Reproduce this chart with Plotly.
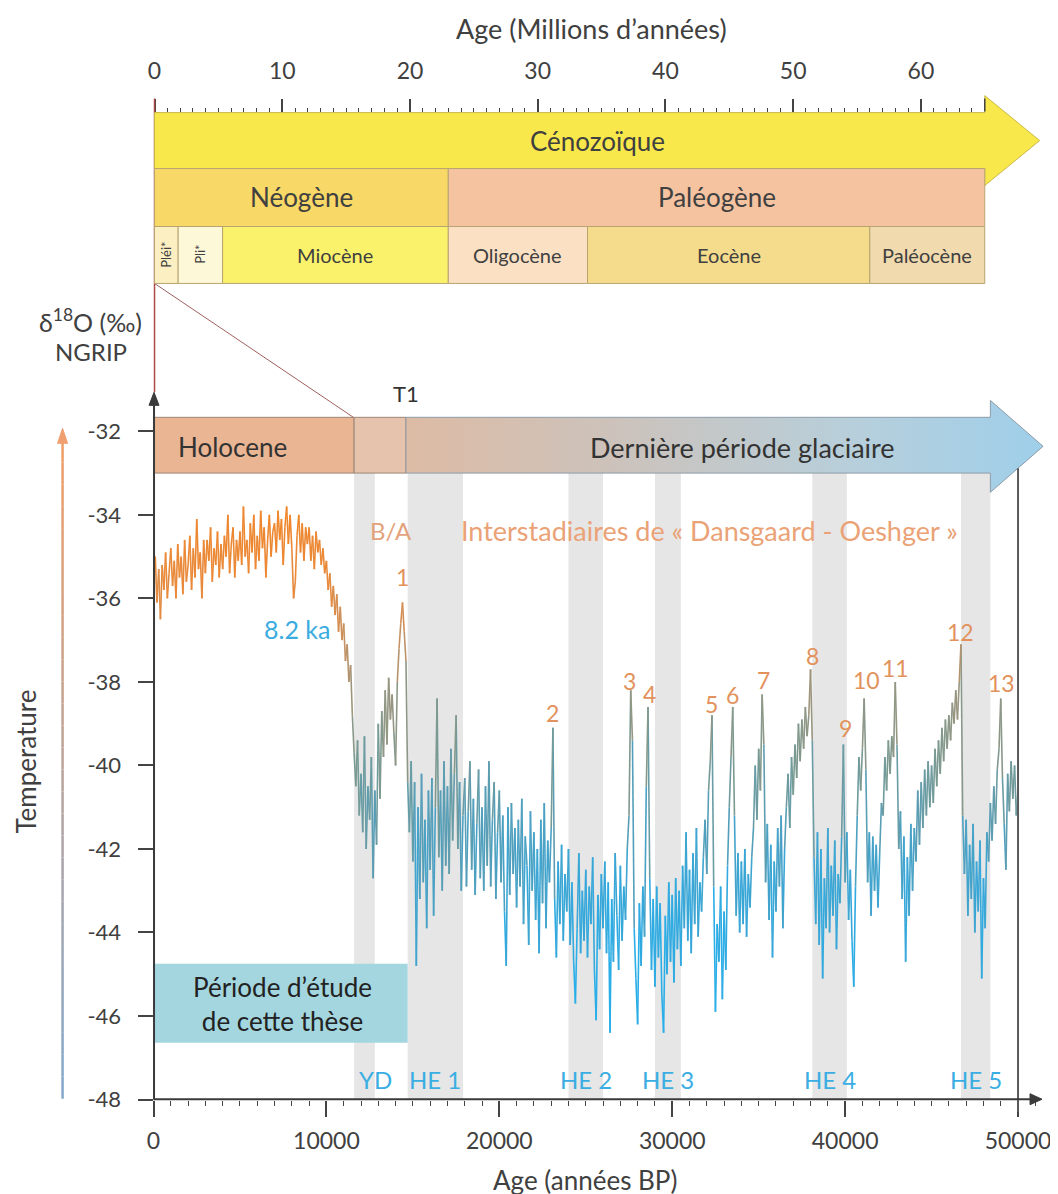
import plotly.graph_objects as go

W, H = 1058, 1194
FONT = "Lato"
TXT = "#404040"

# ---------------- data ----------------
# NGRIP d18O (permil), one value every 100 years BP
d18o_0_10ka = [
    -35.6, -35.0, -36.1, -35.3, -36.5, -35.2, -35.8, -34.9, -36.0, -35.4,
    -34.8, -35.7, -35.1, -36.0, -34.7, -35.5, -35.0, -35.9, -34.6, -35.6,
    -35.2, -34.5, -35.8, -34.8, -35.5, -34.1, -35.3, -34.9, -36.0, -34.6,
    -35.4, -34.6, -35.1, -34.3, -35.6, -34.8, -35.2, -34.4, -35.5, -34.7,
    -35.3, -34.5, -35.0, -34.0, -35.4, -34.7, -34.3, -35.5, -34.6, -35.1,
    -34.4, -35.2, -33.8, -35.0, -34.6, -35.4, -34.2, -34.9, -34.0, -35.3,
    -34.5, -35.1, -33.9, -34.8, -34.3, -35.5, -34.6, -34.0, -35.0, -34.4,
    -34.2, -34.9, -33.9, -34.6, -34.1, -35.2, -34.3, -33.8, -34.7, -34.0,
    -34.8, -36.0, -35.6, -34.5, -34.0, -34.9, -34.2, -35.1, -34.3, -34.7,
    -34.3, -35.1, -34.5, -35.3, -34.4, -34.9, -34.6, -35.2, -34.8, -35.4,
]
d18o_10_20ka = [
    -35.1, -35.8, -35.4, -36.2, -35.7, -36.4, -35.9, -36.8, -36.2, -37.0,
    -36.6, -37.5, -37.1, -38.0, -37.6, -38.8, -39.7, -40.5, -39.4, -41.2,
    -40.2, -41.6, -39.3, -42.0, -40.5, -41.3, -39.8, -42.7, -40.6, -41.9,
    -39.0, -40.8, -38.7, -39.8, -38.2, -39.5, -37.9, -38.9, -38.3, -39.2,
    -40.0, -38.0, -37.2, -36.6, -36.1, -36.8, -37.5, -40.4, -41.6, -39.9,
    -42.3, -40.4, -44.8, -41.0, -43.2, -40.2, -42.8, -41.3, -43.9, -40.6,
    -42.5, -40.3, -43.6, -41.0, -38.4, -42.2, -40.6, -43.0, -39.9, -42.4,
    -40.5, -42.6, -39.6, -41.8, -40.2, -38.8, -42.0, -40.4, -43.0, -41.2,
    -40.3, -42.9, -41.1, -39.9, -42.5, -40.8, -43.1, -41.4, -40.1, -42.7,
    -41.0, -43.0, -40.5, -42.4, -39.9, -42.9, -41.3, -40.4, -43.2, -41.6,
]
d18o_20_30ka = [
    -40.6, -42.8, -41.2, -43.5, -44.8, -41.0, -43.1, -40.9, -42.6, -41.5,
    -43.4, -41.3, -42.9, -40.8, -43.8, -41.7, -42.4, -44.3, -41.1, -43.0,
    -41.6, -43.7, -42.0, -44.5, -41.3, -43.3, -40.9, -43.9, -41.8, -42.8,
    -41.5, -39.1, -43.2, -44.6, -42.3, -43.8, -41.9, -44.2, -42.6, -43.5,
    -42.0, -44.3, -42.8, -44.7, -45.7, -43.9, -42.1, -44.5, -43.0, -44.2,
    -42.5, -44.6, -42.9, -43.8, -42.2, -44.9, -46.1, -43.1, -44.4, -42.6,
    -43.9, -42.3, -44.5, -42.8, -46.4, -43.2, -44.7, -42.1, -43.6, -44.9,
    -42.4, -44.2, -42.9, -43.7, -42.0, -41.2, -38.2, -39.4, -43.9, -45.1,
    -46.2, -43.3, -44.8, -42.9, -44.1, -40.5, -38.6, -42.7, -44.9, -43.2,
    -45.3, -42.9, -44.6, -43.3, -45.5, -46.4, -43.6, -45.0, -42.8, -44.7,
]
d18o_30_40ka = [
    -43.1, -45.2, -42.7, -44.4, -43.0, -44.8, -42.4, -43.9, -41.6, -44.2,
    -42.5, -44.5, -42.1, -43.8, -41.5, -44.1, -42.8, -43.5, -42.2, -41.3,
    -42.6, -40.6, -39.9, -38.8, -42.9, -45.9, -43.8, -44.7, -42.9, -45.6,
    -43.5, -44.9, -42.4, -41.0, -39.8, -38.6, -41.2, -43.6, -42.1, -44.0,
    -42.3, -43.8, -42.0, -44.1, -42.6, -43.4, -42.2, -41.5, -40.0, -41.3,
    -39.6, -40.6, -38.3, -39.5, -42.8, -41.4, -43.7, -41.9, -44.6, -42.3,
    -43.5, -41.5, -42.9, -41.2, -43.9, -42.0, -41.0, -40.2, -41.5, -39.8,
    -40.7, -39.5, -40.3, -39.0, -39.9, -38.9, -39.6, -38.6, -39.3, -38.8,
    -37.7, -39.4, -42.2, -43.8, -41.6, -44.3, -42.0, -45.1, -42.7, -43.9,
    -41.5, -44.0, -42.4, -43.6, -41.8, -44.4, -42.6, -43.3, -41.7, -39.5,
]
d18o_40_50ka = [
    -42.8, -41.6, -43.7, -42.5, -44.2, -45.3, -42.9, -41.2, -39.8, -40.6,
    -39.6, -38.4, -40.1, -42.8, -41.6, -43.6, -41.7, -43.0, -41.9, -43.4,
    -42.1, -40.9, -41.2, -39.8, -40.6, -39.4, -40.2, -39.3, -39.8, -38.0,
    -39.5, -42.0, -41.1, -43.2, -41.7, -44.7, -42.2, -43.6, -41.4, -43.0,
    -41.5, -42.3, -40.6, -41.9, -40.4, -41.5, -40.1, -41.2, -39.9, -41.0,
    -40.0, -40.9, -39.6, -40.5, -39.4, -40.2, -39.1, -39.9, -38.9, -39.6,
    -38.8, -39.4, -38.5, -39.0, -38.2, -38.9, -38.0, -37.1, -41.2, -42.6,
    -41.3, -43.6, -41.9, -43.2, -41.4, -44.0, -42.3, -43.5, -41.8, -45.1,
    -42.7, -43.9, -41.6, -42.3, -40.9, -41.8, -40.5, -41.4, -40.1, -39.6,
    -38.4, -40.3, -41.4, -42.5, -40.2, -41.1, -39.9, -40.8, -40.0, -41.2,
    -40.6,
]
d18o = d18o_0_10ka + d18o_10_20ka + d18o_20_30ka + d18o_30_40ka + d18o_40_50ka
age_bp = [100 * i for i in range(len(d18o))]

# stadial / Heinrich events (years BP)
he_names = ["YD", "HE 1", "HE 2", "HE 3", "HE 4", "HE 5"]
he_start = [11600, 14700, 24000, 29000, 38100, 46700]
he_end = [12800, 17900, 26000, 30500, 40100, 48400]

# Dansgaard-Oeschger interstadial labels
di_labels = ["1", "2", "3", "4", "5", "6", "7", "8", "9", "10", "11", "12", "13"]
di_age = [14400, 23100, 27500, 28700, 32250, 33500, 35250, 38100, 40000, 41250, 42900, 46700, 49050]
di_value = [-35.5, -38.75, -37.98, -38.29, -38.53, -38.32, -37.96, -37.38, -39.11, -37.96, -37.67, -36.81, -38.03]

holocene_end = 11600
t1_end = 14600
study_end = 14700

x_ticks = [0, 10000, 20000, 30000, 40000, 50000]
y_ticks = [-48, -46, -44, -42, -40, -38, -36, -34, -32]

# geological time scale (Ma)
era_name, era_start, era_end = "Cénozoïque", 0.0, 65.0
period_names = ["Néogène", "Paléogène"]
period_start = [0.0, 23.0]
period_end = [23.0, 65.0]
period_colors = ["#F8D866", "#F6C3A1"]
epoch_names = ["Pléi*", "Pli*", "Miocène", "Oligocène", "Eocène", "Paléocène"]
epoch_start = [0.0, 1.85, 5.33, 23.0, 33.9, 56.0]
epoch_end = [1.85, 5.33, 23.0, 33.9, 56.0, 65.0]
epoch_colors = ["#FCEFC2", "#FDF8D8", "#FBF26C", "#FBE0C4", "#F5DC8C", "#F1DAAE"]

ma_ticks = [0, 10, 20, 30, 40, 50, 60]

# ---------------- helpers ----------------
# compensation for the page offset / scale seen in the photographed page
SX, BX = 0.993, 14.4
SY, BY = 0.990, 7.3

def px(p):
    return ((p - BX) / SX) / W

def py(p):
    return 1 - ((p - BY) / SY) / H

STOPS = [(-44.5, (42, 174, 232)), (-43.0, (58, 166, 214)), (-41.5, (88, 158, 182)),
         (-40.0, (122, 154, 146)), (-38.5, (152, 150, 128)), (-37.0, (196, 146, 100)),
         (-35.5, (232, 138, 60)), (-34.0, (240, 134, 42))]

def val_color(v):
    if v <= STOPS[0][0]:
        c = STOPS[0][1]
    elif v >= STOPS[-1][0]:
        c = STOPS[-1][1]
    else:
        for (v0, c0), (v1, c1) in zip(STOPS[:-1], STOPS[1:]):
            if v0 <= v <= v1:
                t = (v - v0) / (v1 - v0)
                c = tuple(int(round(a + (b - a) * t)) for a, b in zip(c0, c1))
                break
    return "rgb(%d,%d,%d)" % c

def mix(c0, c1, t):
    return "rgb(%d,%d,%d)" % tuple(int(round(a + (b - a) * t)) for a, b in zip(c0, c1))

fig = go.Figure()

# glacial-period arrow (gradient)
fig.add_trace(go.Scatter(
    x=[t1_end, 48400, 48400, 51450, 48400, 48400, t1_end, t1_end],
    y=[-31.665, -31.665, -31.26, -32.36, -33.46, -33.0, -33.0, -31.665],
    mode="lines", fill="toself",
    fillgradient=dict(type="horizontal",
                      colorscale=[[0, "#DDBBA4"], [0.35, "#CBC3BD"], [0.7, "#B7CFDB"], [1, "#9FCFEA"]]),
    line=dict(color="#8E9CA8", width=1), hoverinfo="skip", showlegend=False))

# d18O curve, colour by value
bins = {}
for i in range(len(d18o) - 1):
    v = 0.5 * (d18o[i] + d18o[i + 1])
    k = round(v * 4) / 4
    bx, by = bins.setdefault(k, ([], []))
    bx += [age_bp[i], age_bp[i + 1], None]
    by += [d18o[i], d18o[i + 1], None]
for k in sorted(bins):
    bx, by = bins[k]
    fig.add_trace(go.Scatter(x=bx, y=by, mode="lines",
                             line=dict(color=val_color(k), width=1.6),
                             hoverinfo="skip", showlegend=False))

# dummy trace for top axis
fig.add_trace(go.Scatter(x=[0, 65], y=[None, None], xaxis="x2", yaxis="y",
                         mode="lines", hoverinfo="skip", showlegend=False))

shapes = []
# stadial bands
for s, e in zip(he_start, he_end):
    shapes.append(dict(type="rect", xref="x", yref="y", x0=s, x1=e, y0=-33.0, y1=-48,
                       fillcolor="#E6E6E6", line=dict(width=0), layer="below"))
# study period box
shapes.append(dict(type="rect", xref="x", yref="y", x0=0, x1=study_end, y0=-44.75, y1=-46.64,
                   fillcolor="#A4D6DF", line=dict(width=0), layer="below"))
# Holocene + T1 boxes
shapes.append(dict(type="rect", xref="x", yref="y", x0=0, x1=holocene_end, y0=-31.665, y1=-33.0,
                   fillcolor="#EAB592", line=dict(color="#9C8676", width=1), layer="below"))
shapes.append(dict(type="rect", xref="x", yref="y", x0=holocene_end, x1=t1_end, y0=-31.665, y1=-33.0,
                   fillcolor="#E5C3AC", line=dict(color="#9C8676", width=1), layer="below"))
# 50000 line
shapes.append(dict(type="line", xref="x", yref="paper", x0=50000, x1=50000, y0=py(468), y1=py(1112),
                   line=dict(color="#5A5A5A", width=2)))
# axes lines with arrow heads
AX = "#3A3A3A"
shapes.append(dict(type="line", xref="paper", yref="paper", x0=px(153), x1=px(1034),
                   y0=py(1099.5), y1=py(1099.5), line=dict(color=AX, width=2)))
shapes.append(dict(type="path", xref="paper", yref="paper",
                   path="M %f,%f L %f,%f L %f,%f Z" % (px(1042), py(1099.5), px(1030), py(1094), px(1030), py(1105)),
                   fillcolor=AX, line=dict(color=AX, width=1)))
shapes.append(dict(type="line", xref="paper", yref="paper", x0=px(153.5), x1=px(153.5),
                   y0=py(1099.5), y1=py(400), line=dict(color=AX, width=2)))
shapes.append(dict(type="path", xref="paper", yref="paper",
                   path="M %f,%f L %f,%f L %f,%f Z" % (px(153.5), py(392), px(148.5), py(405), px(158.5), py(405)),
                   fillcolor=AX, line=dict(color=AX, width=1)))
# red connector line + zoom diagonal
shapes.append(dict(type="line", xref="paper", yref="paper", x0=px(154), x1=px(154), y0=py(392), y1=py(98),
                   line=dict(color="#B04848", width=1.5)))
shapes.append(dict(type="line", xref="paper", yref="paper", x0=px(154), x1=px(353), y0=py(283), y1=py(417),
                   line=dict(color="#A06060", width=1)))

# geological scale
shapes.append(dict(type="path", xref="x2", yref="paper",
                   path="M %f,%f L %f,%f L %f,%f L %f,%f L %f,%f L %f,%f L %f,%f Z" % (
                       era_start, py(112), era_end, py(112), era_end, py(95), 69.3, py(140),
                       era_end, py(185), era_end, py(168), era_start, py(168)),
                   fillcolor="#F8E84C", line=dict(color="#C9B848", width=1)))
for s, e, c in zip(period_start, period_end, period_colors):
    shapes.append(dict(type="rect", xref="x2", yref="paper", x0=s, x1=e, y0=py(168), y1=py(226),
                       fillcolor=c, line=dict(color="#B8A470", width=1)))
for s, e, c in zip(epoch_start, epoch_end, epoch_colors):
    shapes.append(dict(type="rect", xref="x2", yref="paper", x0=s, x1=e, y0=py(226), y1=py(283),
                       fillcolor=c, line=dict(color="#B8A470", width=1)))
# end tick of the Ma scale
shapes.append(dict(type="line", xref="x2", yref="paper", x0=era_end, x1=era_end, y0=py(111), y1=py(98),
                   line=dict(color="#444", width=1.5)))

# temperature arrow (vertical gradient)
n = 30
y_lo, y_hi = 1099, 440
c_lo, c_hi = (130, 168, 205), (240, 158, 104)
for i in range(n):
    a = y_lo + (y_hi - y_lo) * i / n
    b = y_lo + (y_hi - y_lo) * (i + 1) / n
    shapes.append(dict(type="line", xref="paper", yref="paper", x0=px(62), x1=px(62),
                       y0=py(a), y1=py(b), line=dict(color=mix(c_lo, c_hi, (i + 0.5) / n), width=2.5)))
shapes.append(dict(type="path", xref="paper", yref="paper",
                   path="M %f,%f L %f,%f L %f,%f Z" % (px(62), py(428), px(57), py(443), px(67), py(443)),
                   fillcolor="#F0A070", line=dict(color="#F0A070", width=1)))

ann = []
def A(text, x, y, xref="x", yref="y", size=20, color=TXT, **kw):
    ann.append(dict(text=text, x=x, y=y, xref=xref, yref=yref, showarrow=False,
                    xanchor="center", yanchor="middle",
                    font=dict(family=FONT, size=size, color=color), **kw))

# titles
A("Age (Millions d’années)", px(591), py(28), "paper", "paper", size=27)
A("Age (années BP)", px(585), py(1180), "paper", "paper", size=26)
A("δ<sup>18</sup>O (‰)", px(90), py(320), "paper", "paper", size=25)
A("NGRIP", px(90), py(351), "paper", "paper", size=24)
A("Temperature", px(25), py(762), "paper", "paper", size=26, textangle=-90)

# geological labels
A(era_name, (era_start + era_end) / 2 + 2.2, py(140), "x2", "paper", size=26)
for nme, s, e in zip(period_names, period_start, period_end):
    A(nme, (s + e) / 2, py(196), "x2", "paper", size=26)
for nme, s, e in zip(epoch_names, epoch_start, epoch_end):
    if len(nme) <= 5:
        A(nme, (s + e) / 2, py(254), "x2", "paper", size=13, textangle=-90)
    else:
        A(nme, (s + e) / 2, py(255), "x2", "paper", size=20)

# in-plot labels
A("Holocene", 4566, -32.38, size=26, color="#333333")
A("Dernière période glaciaire", 34046, -32.38, size=27, color="#333333")
A("T1", 14624, -31.09, size=22, color="#333333")
A("B/A", 13757, -34.37, size=24, color="#E2A37C")
A("Interstadiaires de « Dansgaard - Oeshger »", 32139, -34.37, size=27, color="#EAA276")
A("8.2 ka", 8324, -36.74, size=25, color="#3AACE0")
for lab, a, v in zip(di_labels, di_age, di_value):
    A(lab, a, v, size=23, color="#E2925C")
for nme, s, e in zip(he_names, he_start, he_end):
    A(nme, (s + e) / 2 + (650 if nme == "YD" else 0), -47.53, size=24, color="#3AAEE2")
A("Période d’étude<br>de cette thèse", 7457, -45.72, size=26, color="#222222")

fig.update_layout(
    width=W, height=H, autosize=False,
    margin=dict(l=0, r=0, t=0, b=0),
    paper_bgcolor="white", plot_bgcolor="white",
    showlegend=False,
    shapes=shapes, annotations=ann,
    font=dict(family=FONT, color=TXT),
    xaxis=dict(domain=[px(153), px(1050)], range=[0, 51850],
               tickvals=x_ticks, ticktext=[str(t) for t in x_ticks],
               ticks="outside", ticklen=16, tickwidth=1.5, tickcolor="#444",
               minor=dict(dtick=1000, tick0=0, ticks="outside", ticklen=5, tickwidth=1.2, tickcolor="#444"),
               ticklabelstandoff=5,
               tickfont=dict(family=FONT, size=23, color=TXT),
               showline=False, showgrid=False, zeroline=False, fixedrange=True),
    yaxis=dict(domain=[py(1099.8), py(389.2)], range=[-48, -31.0],
               tickvals=y_ticks, ticktext=[str(t) for t in y_ticks],
               ticks="outside", ticklen=15, tickwidth=1.5, tickcolor="#444",
               ticklabelstandoff=12,
               tickfont=dict(family=FONT, size=22, color=TXT),
               showline=False, showgrid=False, zeroline=False, fixedrange=True),
    xaxis2=dict(overlaying="x", side="top", anchor="free", position=py(111),
                range=[(153 - 154) / 12.78, (1050 - 154) / 12.78],
                tickvals=ma_ticks, ticktext=[str(t) for t in ma_ticks],
                ticks="outside", ticklen=13, tickwidth=1.5, tickcolor="#444",
                minor=dict(tickmode="array", tickvals=[m for m in range(1, 65) if m % 10],
                           ticks="outside", ticklen=4, tickwidth=1.2, tickcolor="#444"),
                ticklabelstandoff=10,
                tickfont=dict(family=FONT, size=23, color=TXT),
                showline=False, showgrid=False, zeroline=False, fixedrange=True),
)

fig.write_html("out.html")
